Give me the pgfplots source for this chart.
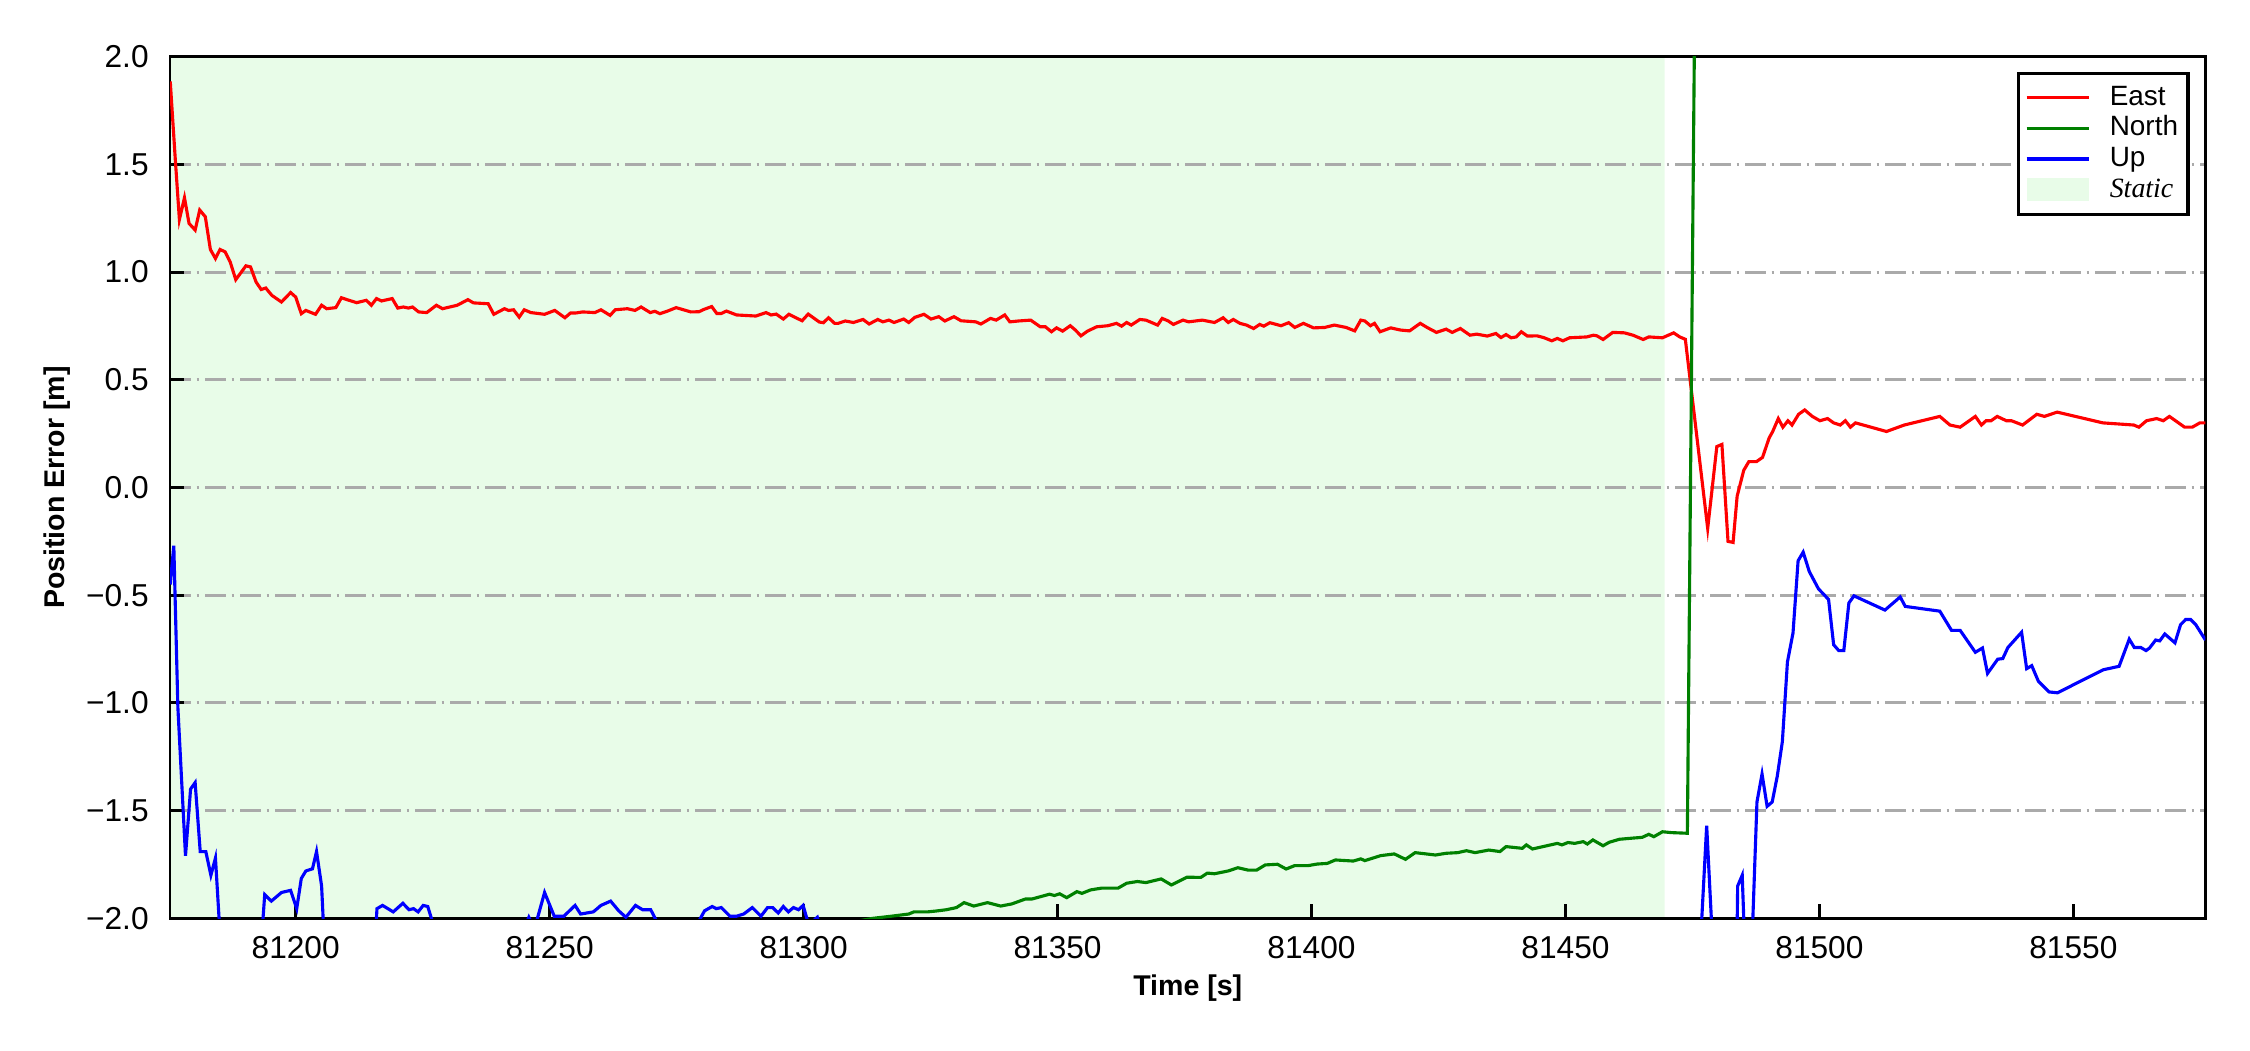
\documentclass[border=0pt]{standalone}
\usepackage{fontspec}
\setmainfont{Liberation Sans}
\newfontfamily\seriff{Liberation Serif}
\usepackage{pgfplots}
\pgfplotsset{compat=1.18}
\definecolor{staticgreen}{RGB}{232,252,232}
\definecolor{ngreen}{RGB}{0,128,0}
\definecolor{gridgray}{RGB}{170,170,170}
\begin{document}
\begin{tikzpicture}
\begin{axis}[
  at={(0,0)}, anchor=south west,
  scale only axis, width=488.5pt, height=206.8pt,
  set layers,
  xmin=81175.25, xmax=81576, ymin=-2, ymax=2,
  xtick={81200,81250,81300,81350,81400,81450,81500,81550},
  xticklabels={81200,81250,81300,81350,81400,81450,81500,81550},
  ytick={-2,-1.5,-1,-0.5,0,0.5,1,1.5,2},
  yticklabels={−2.0,−1.5,−1.0,−0.5,0.0,0.5,1.0,1.5,2.0},
  scaled x ticks=false,
  tick align=inside, xtick pos=bottom, ytick pos=left,
  major tick length=3.4pt,
  tick style={black, line width=0.7pt},
  axis line style={black, line width=0.7pt},
  ticklabel style={font=\fontsize{7.6}{9}\selectfont},
  yticklabel style={xshift=-1.6pt},
  xticklabel style={yshift=-0.9pt},
  ymajorgrids,
  grid style={gridgray, line width=0.7pt, dash pattern=on 5.0pt off 1.4pt on 0.6pt off 1.4pt},
  xlabel={Time [s]}, ylabel={Position Error [m]},
  label style={font=\fontsize{6.85}{8}\selectfont\bfseries},
  xlabel style={at={(axis description cs:0.5,-0.0812)}, anchor=center},
  ylabel style={at={(axis description cs:-0.0553,0.5)}, anchor=center},
  legend style={at={(1,1)}, anchor=north east, xshift=-3.8pt, yshift=-3.6pt,
    draw=black, line width=0.75pt, fill=white,
    font=\fontsize{6.7}{8}\selectfont, row sep=0pt, inner xsep=1.6pt, inner ysep=2.2pt,
    nodes={inner xsep=0.8pt, inner ysep=0.43pt, text height=5.0pt, text depth=1.5pt}},
  legend cell align=left,
  legend image code/.code={\draw[#1, line width=0.75pt] (0pt,0pt) -- (14.9pt,0pt); \path (18.8pt,0pt);},
]
\addplot[fill=staticgreen, draw=none, forget plot, on layer=axis background]
  coordinates {(81175.25,-2) (81469.5,-2) (81469.5,2) (81175.25,2) (81175.25,-2)};

\addplot[red, line width=0.75pt] table {
81175.3 1.885
81176.3 1.52
81177.1 1.244
81178.1 1.345
81179.0 1.226
81180.2 1.195
81181.1 1.288
81182.2 1.257
81183.2 1.105
81184.2 1.063
81185.1 1.105
81186.1 1.094
81187.1 1.047
81188.2 0.965
81190.2 1.029
81191.1 1.024
81192.2 0.954
81193.2 0.919
81194.1 0.926
81195.3 0.892
81197.2 0.861
81199.0 0.905
81200.0 0.884
81201.1 0.807
81202.0 0.822
81203.9 0.804
81205.1 0.846
81206.1 0.830
81207.9 0.835
81209.0 0.881
81210.1 0.872
81212.0 0.858
81213.9 0.869
81214.9 0.846
81215.9 0.877
81216.9 0.866
81219.0 0.877
81220.1 0.833
81221.2 0.838
81222.2 0.833
81223.0 0.838
81224.2 0.815
81225.8 0.812
81227.7 0.846
81228.9 0.830
81231.8 0.846
81233.9 0.872
81235.0 0.857
81237.9 0.853
81239.0 0.804
81241.1 0.830
81241.9 0.822
81242.9 0.825
81244.0 0.791
81245.0 0.825
81246.3 0.812
81249.0 0.804
81251.0 0.822
81253.0 0.788
81254.1 0.810
81255.1 0.810
81256.5 0.815
81258.9 0.812
81260.1 0.825
81261.9 0.799
81262.9 0.825
81265.3 0.830
81266.8 0.822
81268.0 0.838
81269.8 0.812
81270.7 0.818
81271.7 0.807
81273.1 0.818
81274.9 0.835
81277.8 0.815
81279.4 0.816
81280.4 0.827
81281.9 0.840
81282.9 0.808
81283.8 0.808
81284.8 0.819
81286.8 0.801
81290.6 0.796
81292.6 0.812
81293.6 0.801
81294.6 0.805
81296.0 0.782
81297.1 0.804
81299.7 0.774
81300.9 0.805
81303.1 0.768
81303.9 0.765
81304.9 0.788
81306.1 0.762
81306.8 0.762
81308.2 0.773
81309.8 0.766
81311.7 0.780
81312.9 0.759
81314.6 0.780
81315.6 0.769
81316.8 0.777
81317.8 0.766
81319.7 0.782
81320.7 0.766
81321.9 0.790
81323.7 0.804
81325.1 0.782
81326.6 0.793
81327.8 0.773
81329.6 0.793
81331.0 0.774
81333.9 0.769
81334.9 0.759
81336.8 0.785
81337.9 0.777
81339.6 0.801
81340.6 0.769
81342.3 0.773
81344.7 0.777
81346.6 0.746
81347.6 0.746
81348.8 0.723
81349.8 0.741
81351.0 0.726
81352.5 0.751
81353.5 0.731
81354.6 0.704
81355.9 0.726
81357.7 0.746
81359.9 0.751
81361.6 0.762
81362.6 0.749
81363.6 0.766
81364.5 0.754
81366.2 0.780
81367.4 0.777
81369.7 0.754
81370.6 0.785
81371.8 0.773
81372.8 0.757
81374.7 0.777
81375.8 0.769
81378.5 0.777
81380.9 0.766
81382.6 0.788
81383.6 0.766
81384.6 0.780
81385.9 0.762
81387.2 0.754
81388.6 0.738
81389.8 0.757
81390.6 0.749
81391.8 0.765
81394.0 0.751
81395.5 0.765
81396.7 0.743
81398.4 0.762
81400.4 0.741
81402.6 0.743
81404.5 0.754
81406.8 0.743
81408.5 0.727
81409.7 0.777
81410.5 0.773
81411.6 0.751
81412.4 0.762
81413.5 0.723
81415.6 0.741
81417.5 0.731
81419.3 0.727
81421.4 0.762
81422.9 0.741
81424.6 0.720
81426.5 0.735
81427.7 0.720
81429.3 0.738
81431.2 0.707
81432.5 0.712
81434.6 0.703
81436.3 0.715
81437.3 0.696
81438.3 0.710
81439.3 0.695
81440.3 0.699
81441.3 0.723
81442.5 0.703
81444.4 0.704
81445.7 0.696
81447.3 0.681
81448.4 0.692
81449.5 0.681
81450.8 0.695
81454.2 0.699
81455.5 0.707
81456.2 0.704
81457.4 0.687
81459.3 0.720
81461.6 0.718
81463.3 0.707
81465.3 0.687
81466.4 0.699
81469.1 0.695
81471.3 0.718
81472.5 0.699
81473.6 0.688
81478.0 -0.19
81479.8 0.19
81480.8 0.20
81482.0 -0.25
81483.0 -0.255
81483.8 -0.04
81485.1 0.08
81486.1 0.12
81487.6 0.12
81488.8 0.14
81490.1 0.23
81490.8 0.26
81491.9 0.32
81492.8 0.28
81493.8 0.31
81494.6 0.29
81495.9 0.34
81497.1 0.36
81498.6 0.33
81500.1 0.31
81501.6 0.32
81502.8 0.30
81504.1 0.29
81505.1 0.31
81506.1 0.28
81507.1 0.30
81513.2 0.26
81516.7 0.29
81523.7 0.33
81525.7 0.29
81527.7 0.28
81530.7 0.33
81531.9 0.29
81532.8 0.31
81533.8 0.31
81535.0 0.33
81536.8 0.31
81537.8 0.31
81540.0 0.29
81542.8 0.34
81544.3 0.33
81546.8 0.35
81555.8 0.30
81561.9 0.29
81562.9 0.28
81564.4 0.31
81566.4 0.32
81567.7 0.31
81568.9 0.33
81571.9 0.28
81573.4 0.28
81574.9 0.30
81576.0 0.30
};
\addlegendentry{East}

\addplot[ngreen, line width=0.75pt] table {
81290.0 -2.10
81313.6 -2.00
81317.3 -1.99
81320.7 -1.98
81321.7 -1.97
81324.4 -1.97
81326.1 -1.966
81328.1 -1.96
81330.1 -1.95
81331.6 -1.927
81333.5 -1.943
81336.2 -1.927
81338.8 -1.943
81341.0 -1.933
81343.7 -1.91
81345.0 -1.91
81348.4 -1.888
81349.4 -1.894
81350.4 -1.886
81351.8 -1.904
81353.8 -1.876
81354.8 -1.884
81356.5 -1.868
81358.6 -1.86
81361.9 -1.86
81363.6 -1.837
81365.7 -1.829
81367.4 -1.834
81370.4 -1.817
81372.4 -1.845
81375.5 -1.809
81378.2 -1.81
81379.5 -1.79
81380.9 -1.793
81383.6 -1.78
81385.5 -1.765
81387.5 -1.776
81389.2 -1.776
81390.9 -1.752
81393.3 -1.749
81395.0 -1.771
81396.7 -1.755
81399.4 -1.755
81401.1 -1.748
81403.1 -1.745
81404.7 -1.729
81408.2 -1.734
81409.7 -1.724
81410.5 -1.732
81413.6 -1.709
81416.3 -1.701
81418.5 -1.726
81420.4 -1.695
81424.4 -1.706
81426.5 -1.698
81428.8 -1.695
81430.5 -1.686
81432.2 -1.695
81434.9 -1.683
81437.1 -1.690
81438.3 -1.667
81440.3 -1.672
81441.5 -1.675
81442.3 -1.659
81443.5 -1.678
81448.4 -1.652
81449.3 -1.659
81450.5 -1.648
81451.8 -1.652
81453.5 -1.644
81454.3 -1.655
81455.4 -1.636
81457.4 -1.663
81458.6 -1.647
81460.6 -1.633
81463.0 -1.628
81465.1 -1.624
81466.4 -1.610
81467.4 -1.621
81469.1 -1.598
81470.8 -1.602
81474.0 -1.605
81475.4 2.10
81576.0 2.50
};
\addlegendentry{North}

\addplot[blue, line width=0.75pt] table {
81175.3 -0.45
81176.0 -0.27
81176.8 -1.02
81178.3 -1.71
81179.3 -1.40
81180.2 -1.37
81181.2 -1.69
81182.3 -1.69
81183.3 -1.80
81184.2 -1.72
81185.8 -2.35
81192.5 -2.35
81193.9 -1.89
81195.2 -1.92
81197.2 -1.88
81199.0 -1.87
81200.2 -1.955
81201.1 -1.815
81202.0 -1.78
81203.3 -1.77
81204.1 -1.69
81205.1 -1.85
81206.0 -2.30
81215.2 -2.30
81216.0 -1.955
81217.1 -1.94
81219.2 -1.97
81221.1 -1.93
81222.3 -1.96
81223.2 -1.955
81224.1 -1.97
81225.1 -1.94
81226.0 -1.945
81227.5 -2.06
81244.0 -2.10
81245.9 -1.995
81247.0 -2.05
81249.0 -1.88
81250.9 -1.99
81252.8 -1.99
81255.0 -1.94
81256.1 -1.98
81258.6 -1.97
81260.1 -1.94
81262.0 -1.92
81263.6 -1.965
81265.0 -1.995
81266.9 -1.94
81268.3 -1.96
81269.9 -1.96
81271.6 -2.04
81278.5 -2.05
81280.5 -1.965
81282.0 -1.945
81282.8 -1.955
81283.8 -1.95
81285.5 -1.99
81286.8 -1.99
81288.2 -1.98
81289.9 -1.95
81291.6 -1.99
81292.9 -1.95
81293.9 -1.95
81295.0 -1.975
81296.0 -1.945
81297.0 -1.97
81298.0 -1.95
81299.0 -1.96
81299.9 -1.94
81301.0 -2.03
81302.7 -1.995
81304.0 -2.10
81330.0 -2.60
81400.0 -2.80
81470.0 -2.80
81475.5 -2.60
81477.8 -1.57
81480.0 -2.60
81483.5 -2.60
81483.9 -1.85
81484.8 -1.80
81486.0 -2.60
81487.7 -1.46
81488.7 -1.33
81489.7 -1.48
81490.7 -1.46
81491.7 -1.34
81492.7 -1.18
81493.7 -0.81
81494.8 -0.675
81495.8 -0.34
81496.8 -0.30
81498.0 -0.39
81499.8 -0.47
81501.8 -0.52
81502.8 -0.73
81503.8 -0.757
81504.8 -0.757
81505.8 -0.536
81506.8 -0.503
81512.9 -0.569
81515.9 -0.508
81516.9 -0.552
81523.7 -0.574
81526.0 -0.663
81527.7 -0.663
81530.7 -0.765
81532.1 -0.745
81533.1 -0.863
81535.1 -0.797
81536.1 -0.794
81537.1 -0.743
81539.8 -0.672
81540.8 -0.841
81541.8 -0.827
81543.1 -0.899
81545.2 -0.949
81546.9 -0.953
81549.9 -0.917
81555.9 -0.846
81559.0 -0.830
81561.0 -0.704
81562.0 -0.743
81563.3 -0.743
81564.3 -0.757
81565.0 -0.745
81566.2 -0.708
81567.0 -0.712
81568.0 -0.680
81570.0 -0.721
81571.1 -0.637
81572.1 -0.613
81573.1 -0.613
81574.1 -0.637
81576.0 -0.708
};
\addlegendentry{Up}

\addlegendimage{legend image code/.code={\fill[staticgreen] (0.6pt,-2.4pt) rectangle (14.5pt,2.4pt); \path (18.8pt,0pt);}}
\addlegendentry{\seriff\itshape Static}
\end{axis}
\path (-40.8pt,-31.6pt) rectangle (499.2pt,220.4pt);
\end{tikzpicture}
\end{document}
